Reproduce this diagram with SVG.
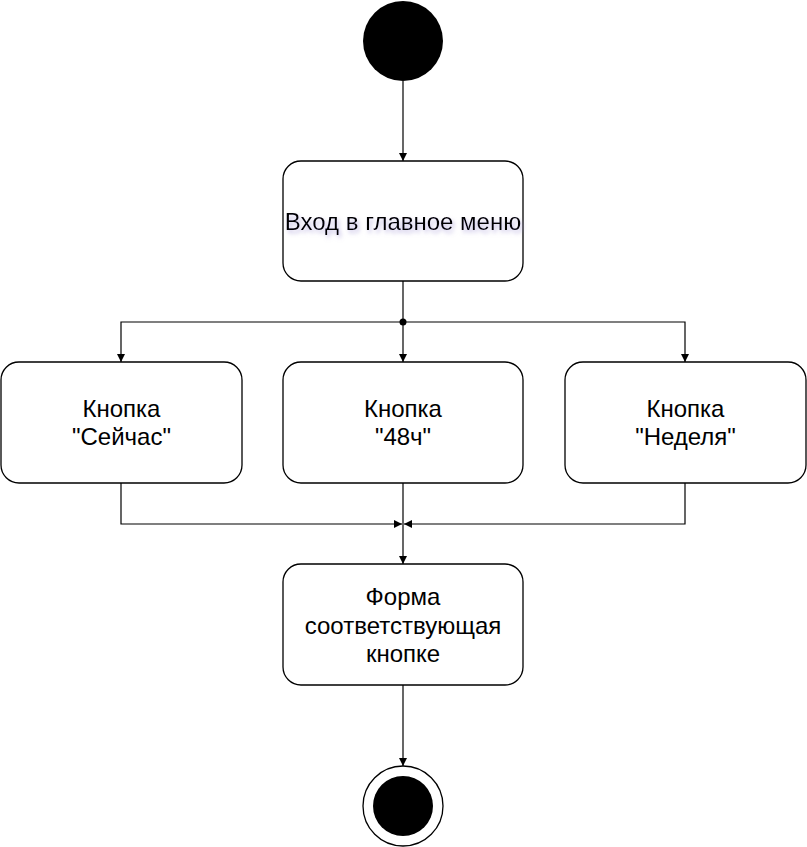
<svg xmlns="http://www.w3.org/2000/svg" width="807" height="847" viewBox="0 0 807 847">
<defs>
<style>
.box{fill:#fff;stroke:#000;stroke-width:1.3}
.t{font-family:"Liberation Sans",Arial,sans-serif;font-size:24px;fill:#000;text-anchor:middle}
.ln{fill:none;stroke:#000;stroke-width:1.2}
</style>
<marker id="ah" viewBox="0 0 10 10" refX="10" refY="5" markerWidth="8" markerHeight="8" markerUnits="userSpaceOnUse" orient="auto">
<path d="M0,0 L10,5 L0,10 Z" fill="#000"/>
</marker>
<filter id="sh" x="-10%" y="-50%" width="120%" height="200%">
<feDropShadow dx="2" dy="3" stdDeviation="2" flood-color="#9b8fd0" flood-opacity="0.6"/>
</filter>
</defs>
<g id="connectors">
<line class="ln" x1="403" y1="81" x2="403" y2="161" marker-end="url(#ah)"/>
<line class="ln" x1="403" y1="281" x2="403" y2="362" marker-end="url(#ah)"/>
<polyline class="ln" points="403,322 121,322 121,362" marker-end="url(#ah)"/>
<polyline class="ln" points="403,322 685,322 685,362" marker-end="url(#ah)"/>
<circle cx="403" cy="322" r="3.5" fill="#000"/>
<polyline class="ln" points="121,483 121,524 402,524" marker-end="url(#ah)"/>
<polyline class="ln" points="685,483 685,524 404,524" marker-end="url(#ah)"/>
<line class="ln" x1="403" y1="483" x2="403" y2="564" marker-end="url(#ah)"/>
<line class="ln" x1="403" y1="685" x2="403" y2="766" marker-end="url(#ah)"/>
</g>
<g id="start"><circle cx="403" cy="41" r="40" fill="#000"/></g>
<g id="menu">
<rect class="box" x="283" y="161" width="240" height="120" rx="18"/>
<text class="t" x="403" y="230" filter="url(#sh)">Вход в главное меню</text>
</g>
<g id="btnNow">
<rect class="box" x="1" y="362" width="241" height="121" rx="18"/>
<text class="t" x="121.5" y="417">Кнопка</text>
<text class="t" x="121.5" y="445">"Сейчас"</text>
</g>
<g id="btn48">
<rect class="box" x="283" y="362" width="240" height="121" rx="18"/>
<text class="t" x="403" y="417">Кнопка</text>
<text class="t" x="403" y="445">"48ч"</text>
</g>
<g id="btnWeek">
<rect class="box" x="565" y="362" width="241" height="121" rx="18"/>
<text class="t" x="685.5" y="417">Кнопка</text>
<text class="t" x="685.5" y="445">"Неделя"</text>
</g>
<g id="form">
<rect class="box" x="283" y="564" width="240" height="121" rx="18"/>
<text class="t" x="403" y="605">Форма</text>
<text class="t" x="403" y="634">соответствующая</text>
<text class="t" x="403" y="662">кнопке</text>
</g>
<g id="end">
<circle cx="403" cy="806" r="40" fill="#fff" stroke="#000" stroke-width="1.3"/>
<circle cx="403" cy="806" r="30" fill="#000"/>
</g>
</svg>
